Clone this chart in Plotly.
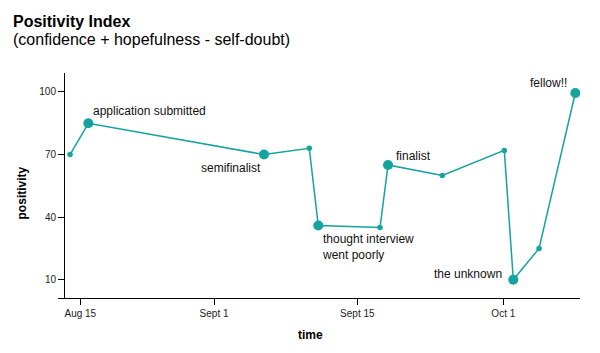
import plotly.graph_objects as go

# day offsets (days since Aug 1) and positivity values
days = [12.86, 14.89, 34.41, 39.44, 40.44, 47.3, 48.19, 54.22, 61.11, 62.11, 64.97, 69.0]
positivity = [70, 85, 70, 73, 36, 35, 65, 60, 72, 10, 25, 99.5]
labels = ["", "application submitted", "semifinalist", "", "thought interview<br>went poorly",
          "", "finalist", "", "", "the unknown", "", "fellow!!"]

tick_days = [14, 28.86, 44.78, 61.0]
tick_text = ["Aug 15", "Sept 1", "Sept 15", "Oct 1"]
y_ticks = [10, 40, 70, 100]

COLOR = "#15a39f"
FONT = "Liberation Sans, Arial, sans-serif"

sizes = [10 if l else 5.5 for l in labels]

fig = go.Figure()
fig.add_trace(go.Scatter(
    x=days, y=positivity, mode="lines+markers",
    line=dict(color=COLOR, width=1.5),
    marker=dict(color=COLOR, size=sizes, opacity=1, line=dict(width=0, color=COLOR)),
    opacity=1,
    hoverinfo="skip", showlegend=False,
))

# label placement styles: (xanchor, yanchor, xshift, yshift)
placement = {
    "application submitted": ("left", "middle", 3, 12),
    "semifinalist": ("right", "middle", -1, -13),
    "thought interview<br>went poorly": ("left", "top", 2, -5),
    "finalist": ("left", "middle", 6, 9),
    "the unknown": ("right", "middle", -9, 6),
    "fellow!!": ("right", "middle", -6, 10),
}

annotations = []
for d, v, l in zip(days, positivity, labels):
    if not l:
        continue
    xa, ya, xs, ys = placement[l]
    annotations.append(dict(
        x=d, y=v, xref="x", yref="y", text=l, showarrow=False,
        xanchor=xa, yanchor=ya, xshift=xs, yshift=ys, align="left",
        font=dict(family=FONT, size=12, color="#111"),
    ))

annotations += [
    dict(x=-0.0856, y=1.229, xref="paper", yref="paper", text="<b>Positivity Index</b>",
         showarrow=False, xanchor="left", yanchor="middle", xshift=-2,
         font=dict(family=FONT, size=16, color="#000")),
    dict(x=-0.0856, y=1.149, xref="paper", yref="paper",
         text="(confidence + hopefulness - self-doubt)",
         showarrow=False, xanchor="left", yanchor="middle", xshift=-2,
         font=dict(family=FONT, size=16, color="#000")),
    dict(x=-0.069, y=0.469, xref="paper", yref="paper", text="<b>positivity</b>",
         showarrow=False, textangle=-90, xanchor="center", yanchor="middle",
         font=dict(family=FONT, size=12, color="#000")),
    dict(x=0.4828, y=-0.1644, xref="paper", yref="paper", text="<b>time</b>",
         showarrow=False, xanchor="center", yanchor="middle",
         font=dict(family=FONT, size=12, color="#000")),
]

fig.update_layout(
    width=600, height=353,
    margin=dict(l=58, r=20, t=73, b=55, pad=0),
    paper_bgcolor="white", plot_bgcolor="white",
    font=dict(family=FONT, size=10, color="#222"),
    xaxis=dict(range=[11.52, 69.52], tickvals=tick_days, ticktext=tick_text,
               showline=True, linecolor="#000", linewidth=1,
               ticks="outside", ticklen=6, tickcolor="#000", tickwidth=1,
               showgrid=False, zeroline=False, fixedrange=True,
               tickfont=dict(size=10, color="#222")),
    yaxis=dict(range=[1.23, 109.1], tickvals=y_ticks,
               anchor="free", position=6 / 522,
               showline=True, linecolor="#000", linewidth=1,
               ticks="outside", ticklen=6, tickcolor="#000", tickwidth=1,
               showgrid=False, zeroline=False, fixedrange=True,
               tickfont=dict(size=10, color="#222")),
    annotations=annotations,
)

fig.write_html("out.html")
